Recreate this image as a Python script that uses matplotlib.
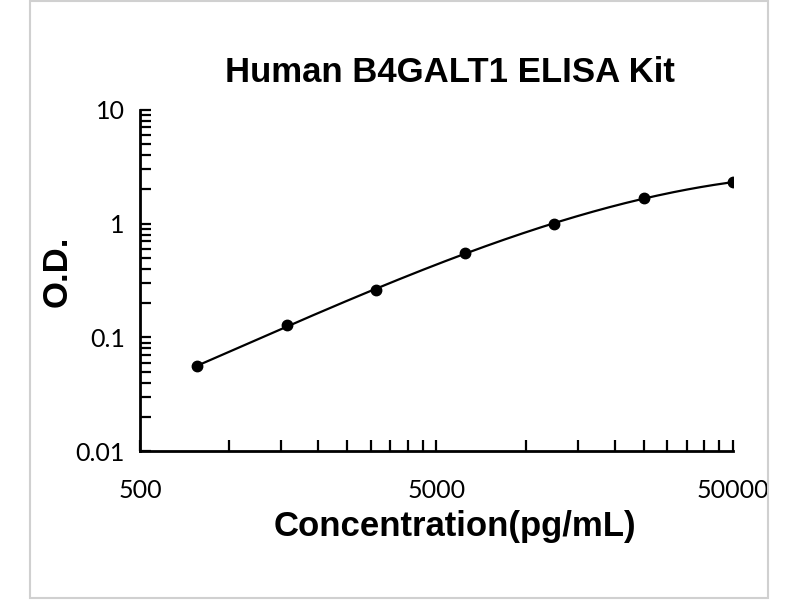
import numpy as np
import matplotlib.pyplot as plt
from matplotlib.ticker import FixedLocator, NullFormatter
from matplotlib.patches import Rectangle

conc = [781.25, 1562.5, 3125, 6250, 12500, 25000, 50000]
od = [0.056, 0.128, 0.26, 0.55, 1.0, 1.68, 2.3]
x_ticks = [500, 5000, 50000]
x_labels = ['500', '5000', '50000']
y_ticks = [0.01, 0.1, 1, 10]
y_labels = ['0.01', '0.1', '1', '10']

fig = plt.figure(figsize=(8, 6), dpi=100)
ax = fig.add_axes([0.175, 0.248, 0.741, 0.569])

# trendline fitted in log-log space
lx, ly = np.log10(conc), np.log10(od)
coef = np.polyfit(lx, ly, 3)
xs = np.linspace(lx[0], lx[-1], 200)
ax.plot(10 ** xs, 10 ** np.polyval(coef, xs), color='black', lw=1.6)
ax.plot(conc, od, 'o', color='black', ms=7.5)

ax.set_xscale('log')
ax.set_yscale('log')
ax.set_xlim(500, 50000)
ax.set_ylim(0.01, 10)

ax.xaxis.set_major_locator(FixedLocator(x_ticks))
ax.set_xticklabels(x_labels)
minors = [500 * k for k in range(2, 10)] + [5000 * k for k in range(2, 10)]
ax.xaxis.set_minor_locator(FixedLocator(minors))
ax.xaxis.set_minor_formatter(NullFormatter())
ax.yaxis.set_major_locator(FixedLocator(y_ticks))
ax.set_yticklabels(y_labels)
ax.yaxis.set_minor_formatter(NullFormatter())

for s in ['top', 'right']:
    ax.spines[s].set_visible(False)
for s in ['left', 'bottom']:
    ax.spines[s].set_linewidth(2)
ax.tick_params(which='both', direction='in', width=1.6, color='black', length=8)
ax.tick_params(axis='x', labelsize=18, pad=20)
ax.tick_params(axis='y', labelsize=18, pad=11)
for lab in ax.get_xticklabels() + ax.get_yticklabels():
    lab.set_family('Lato')

fig.text(0.569, 0.122, 'Concentration(pg/mL)', ha='center', va='center',
         fontsize=25, fontweight='bold', family='Liberation Sans')
fig.text(0.071, 0.547, 'O.D.', ha='center', va='center', rotation=90,
         fontsize=25, fontweight='bold', family='Liberation Sans')
fig.text(0.5625, 0.88, 'Human B4GALT1 ELISA Kit', ha='center', va='center',
         fontsize=25, fontweight='bold', family='Liberation Sans')

fig.patches.append(Rectangle((30 / 800, 0.004), 738 / 800, 0.994,
                             transform=fig.transFigure, fill=False,
                             edgecolor='#d0d0d0', lw=1.5))

fig.savefig('out.png', dpi=100)
